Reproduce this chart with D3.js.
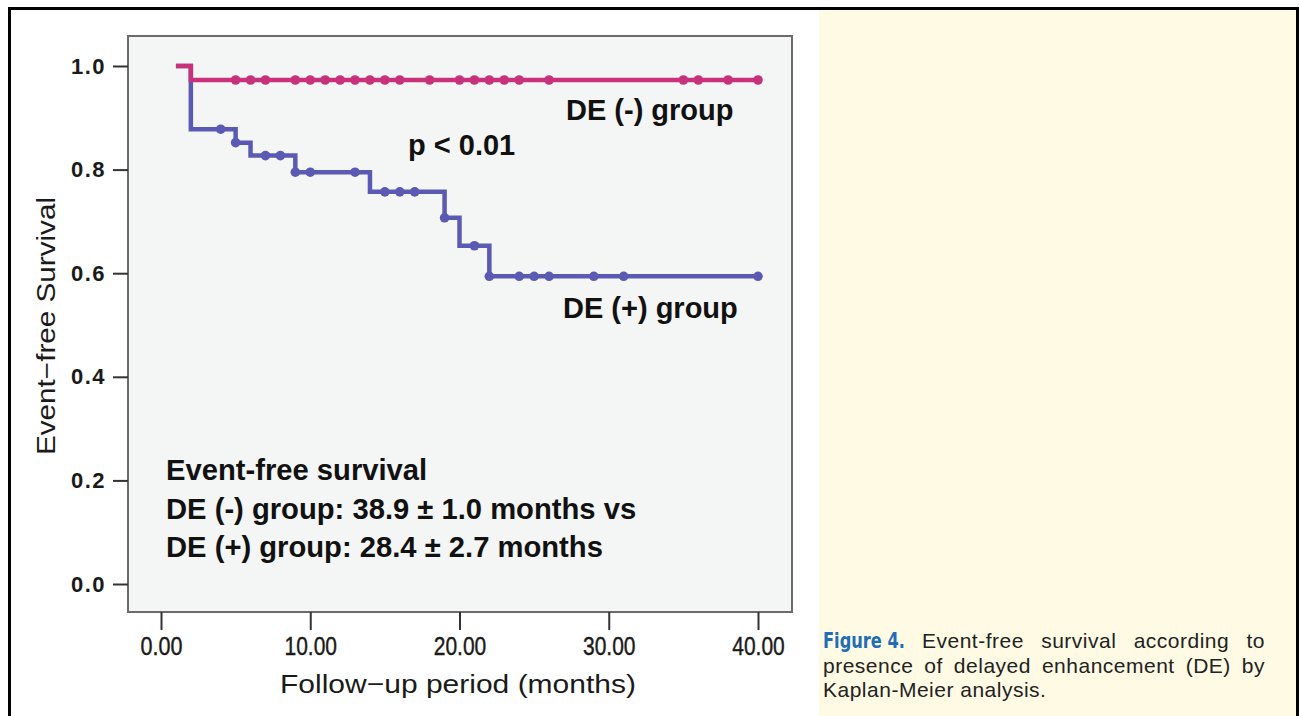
<!DOCTYPE html>
<html>
<head>
<meta charset="utf-8">
<script src="https://cdn.jsdelivr.net/npm/d3@7"></script>
<style>
    body { margin: 0; background: #ffffff; }
    svg { display: block; }
</style>
</head>
<body>
<div id="visualization-container"></div>
<script>
// Kaplan-Meier steps for each group (time in months, survival after the step)
const negStepTimes = [1, 2];
const negStepValues = [1.0, 0.973];
const negCensorTimes = [5, 6, 7, 9, 10, 11, 12, 13, 14, 15, 16, 18, 20, 21, 22, 23, 24, 26, 35, 36, 38, 40];

const posStepTimes = [1, 2, 5, 6, 9, 14, 19, 20, 22];
const posStepValues = [1.0, 0.878, 0.852, 0.827, 0.795, 0.757, 0.707, 0.653, 0.594];
const posCensorTimes = [4, 5, 7, 8, 9, 10, 13, 15, 16, 17, 19, 21, 22, 24, 25, 26, 29, 31, 40];

const endTime = 40;

// Axis ticks
const xTicks = [0, 10, 20, 30, 40];
const xTickLabels = ['0.00', '10.00', '20.00', '30.00', '40.00'];
const yTicks = [0, 0.2, 0.4, 0.6, 0.8, 1.0];
const yTickLabels = ['0.0', '0.2', '0.4', '0.6', '0.8', '1.0'];

// Texts
const statsLines = [
    'Event-free survival',
    'DE (-) group: 38.9 \u00b1 1.0 months vs',
    'DE (+) group: 28.4 \u00b1 2.7 months'
];
const captionLines = [
    'Event-free survival according to',
    'presence of delayed enhancement (DE) by',
    'Kaplan-Meier analysis.'
];

const negColor = '#c8327b';
const posColor = '#5a59b3';
const sansFont = 'Liberation Sans, Arial, sans-serif';

function drawChart() {
    const svg = d3.select('#visualization-container')
        .append('svg')
        .attr('width', 1300)
        .attr('height', 716);

    // caption panel on the right
    svg.append('rect')
        .attr('x', 819).attr('y', 9)
        .attr('width', 478).attr('height', 707)
        .attr('fill', '#fffae4');

    // outer frame (top, left, right)
    svg.append('path')
        .attr('d', 'M9.5,716 V8.5 H1297.5 V716')
        .attr('fill', 'none')
        .attr('stroke', '#000')
        .attr('stroke-width', 3);

    const plot = { left: 128, top: 36, right: 792, bottom: 612 };

    const x = d3.scaleLinear().domain([0, 40]).range([161, 758]);
    const y = d3.scaleLinear().domain([0, 1]).range([584, 66]);

    // plot background
    svg.append('rect')
        .attr('x', plot.left).attr('y', plot.top)
        .attr('width', plot.right - plot.left)
        .attr('height', plot.bottom - plot.top)
        .attr('fill', '#f4f5f5')
        .attr('stroke', '#6b6b6b')
        .attr('stroke-width', 2);

    // y axis
    const yAxis = d3.axisLeft(y)
        .tickValues(yTicks)
        .tickSize(15)
        .tickPadding(7)
        .tickFormat((d, i) => yTickLabels[i]);
    const gy = svg.append('g')
        .attr('transform', `translate(${plot.left}, 0)`)
        .call(yAxis);
    gy.select('.domain').remove();
    gy.selectAll('line').attr('stroke', '#333').attr('stroke-width', 2);
    gy.selectAll('text')
        .attr('font-family', sansFont)
        .attr('font-weight', 'bold')
        .attr('font-size', 22)
        .attr('letter-spacing', 1.5)
        .attr('fill', '#1a1a1a');

    // x axis
    const xAxis = d3.axisBottom(x)
        .tickValues(xTicks)
        .tickSize(18)
        .tickPadding(7)
        .tickFormat((d, i) => xTickLabels[i]);
    const gx = svg.append('g')
        .attr('transform', `translate(0, ${plot.bottom})`)
        .call(xAxis);
    gx.select('.domain').remove();
    gx.selectAll('line').attr('stroke', '#333').attr('stroke-width', 2);
    gx.selectAll('text')
        .attr('font-family', sansFont)
        .attr('font-size', 25)
        .attr('textLength', (d, i) => xTickLabels[i].length * 10.5)
        .attr('lengthAdjust', 'spacingAndGlyphs')
        .attr('stroke', '#1a1a1a')
        .attr('stroke-width', 0.4)
        .attr('fill', '#1a1a1a');

    // axis titles
    svg.append('text')
        .attr('x', 458).attr('y', 693)
        .attr('text-anchor', 'middle')
        .attr('font-family', sansFont)
        .attr('font-size', 26)
        .attr('textLength', 356)
        .attr('lengthAdjust', 'spacingAndGlyphs')
        .attr('fill', '#1a1a1a')
        .text('Follow\u2212up period (months)');

    svg.append('text')
        .attr('transform', 'translate(55, 326) rotate(-90)')
        .attr('text-anchor', 'middle')
        .attr('font-family', sansFont)
        .attr('font-size', 25)
        .attr('textLength', 258)
        .attr('lengthAdjust', 'spacingAndGlyphs')
        .attr('fill', '#1a1a1a')
        .text('Event\u2212free Survival');

    // survival curves
    drawGroup(svg, x, y, posStepTimes, posStepValues, posCensorTimes, posColor);
    drawGroup(svg, x, y, negStepTimes, negStepValues, negCensorTimes, negColor);

    // annotations
    const labels = [
        { text: 'DE (-) group', x: 566, y: 120 },
        { text: 'p < 0.01', x: 408, y: 155 },
        { text: 'DE (+) group', x: 563, y: 318 }
    ];
    svg.selectAll('.annot')
        .data(labels)
        .enter()
        .append('text')
        .attr('class', 'annot')
        .attr('x', d => d.x)
        .attr('y', d => d.y)
        .attr('font-family', sansFont)
        .attr('font-weight', 'bold')
        .attr('font-size', 29)
        .attr('fill', '#111')
        .text(d => d.text);

    svg.selectAll('.stats')
        .data(statsLines)
        .enter()
        .append('text')
        .attr('class', 'stats')
        .attr('x', 166)
        .attr('y', (d, i) => 480 + i * 38.5)
        .attr('font-family', sansFont)
        .attr('font-weight', 'bold')
        .attr('font-size', 29.2)
        .attr('fill', '#111')
        .text(d => d);

    // caption
    const cap = svg.append('g');
    cap.append('text')
        .attr('x', 823).attr('y', 648)
        .attr('font-family', 'DejaVu Sans, sans-serif')
        .attr('font-weight', 'bold')
        .attr('font-size', 21)
        .attr('textLength', 82)
        .attr('lengthAdjust', 'spacingAndGlyphs')
        .attr('fill', '#1f6db8')
        .text('Figure 4.');

    const capRows = [
        { text: captionLines[0], x: 922, y: 648, right: 1265 },
        { text: captionLines[1], x: 823, y: 673, right: 1265 },
        { text: captionLines[2], x: 823, y: 697, right: null }
    ];
    capRows.forEach(row => {
        const t = cap.append('text')
            .attr('x', row.x).attr('y', row.y)
            .attr('font-family', sansFont)
            .attr('font-size', 21)
            .attr('letter-spacing', 0.5)
            .attr('fill', '#222')
            .text(row.text);
        // justify by widening the word gaps
        if (row.right) {
            const natural = t.node().getComputedTextLength();
            const gaps = row.text.split(' ').length - 1;
            t.attr('word-spacing', Math.max(0, (row.right - row.x - natural) / gaps));
        }
    });
}

// Draw one Kaplan-Meier step curve with its censor marks
function drawGroup(svg, x, y, times, values, censors, color) {
    const pts = times.map((t, i) => [t, values[i]]);
    pts.push([endTime, values[values.length - 1]]);

    const line = d3.line()
        .x(d => x(d[0]))
        .y(d => y(d[1]))
        .curve(d3.curveStepAfter);

    svg.append('path')
        .datum(pts)
        .attr('fill', 'none')
        .attr('stroke', color)
        .attr('stroke-width', 4.5)
        .attr('d', line);

    // survival value at a censor time = last step at or before it
    const valueAt = t => values[d3.bisectRight(times, t) - 1];

    svg.selectAll(null)
        .data(censors)
        .enter()
        .append('circle')
        .attr('cx', d => x(d))
        .attr('cy', d => y(valueAt(d)))
        .attr('r', 4.8)
        .attr('fill', color);
}

document.addEventListener('DOMContentLoaded', function () {
    drawChart();
});
</script>
</body>
</html>
